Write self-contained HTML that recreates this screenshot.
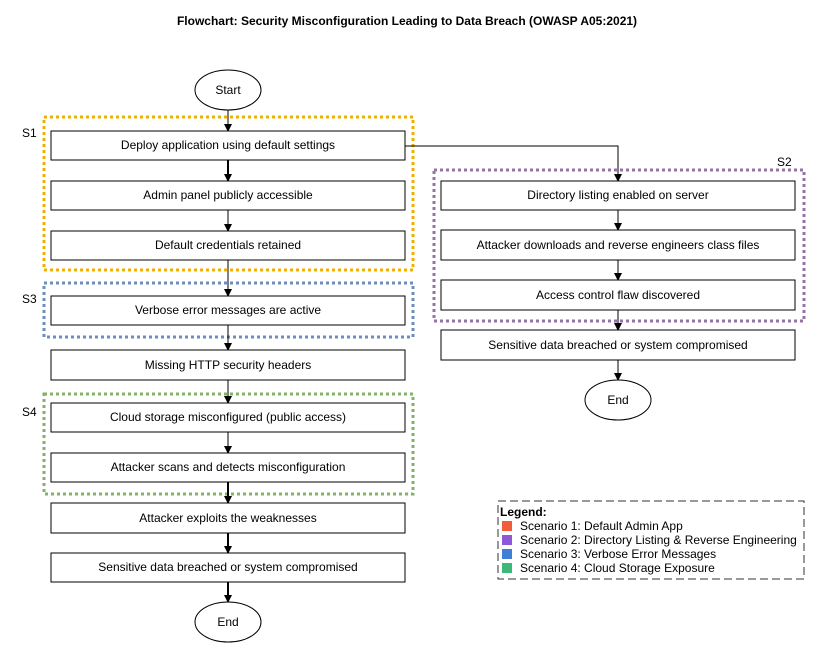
<!DOCTYPE html>
<html><head><meta charset="utf-8"><style>body{margin:0;background:#fff}svg{display:block}text{font-family:"Liberation Sans",Arial,sans-serif}</style></head><body>
<svg width="814" height="654" viewBox="0 0 814 654" xmlns="http://www.w3.org/2000/svg">
<defs><marker id="a" markerWidth="8" markerHeight="8" refX="7" refY="4" orient="auto" markerUnits="userSpaceOnUse"><path d="M0,0 L8,4 L0,8 Z" fill="#000"/></marker></defs>
<text x="407" y="25" font-size="12" font-weight="bold" text-anchor="middle">Flowchart: Security Misconfiguration Leading to Data Breach (OWASP A05:2021)</text>
<g fill="none" stroke-width="3" stroke-dasharray="3,3">
<rect x="44" y="117" width="369" height="153" stroke="#f0b000"/>
<rect x="44" y="283" width="369" height="54" stroke="#6c8ebf"/>
<rect x="44" y="394" width="369" height="100" stroke="#82b366"/>
<rect x="434" y="170" width="370" height="151" stroke="#9673a6"/>
</g>
<g font-size="12">
<text x="22" y="137">S1</text><text x="22" y="303">S3</text><text x="22" y="416">S4</text><text x="777" y="166">S2</text>
</g>
<g stroke="#000" stroke-width="1" fill="none" marker-end="url(#a)">
<line x1="228" y1="110" x2="228" y2="131"/>
<line x1="228" y1="160" x2="228" y2="181" stroke-width="2"/>
<line x1="228" y1="210" x2="228" y2="231"/>
<line x1="228" y1="260" x2="228" y2="296"/>
<line x1="228" y1="325" x2="228" y2="350"/>
<line x1="228" y1="380" x2="228" y2="403"/>
<line x1="228" y1="432" x2="228" y2="453"/>
<line x1="228" y1="482" x2="228" y2="503" stroke-width="2"/>
<line x1="228" y1="533" x2="228" y2="553" stroke-width="2"/>
<line x1="228" y1="582" x2="228" y2="602" stroke-width="2"/>
<polyline points="405,146 618,146 618,181"/>
<line x1="618" y1="210" x2="618" y2="230"/>
<line x1="618" y1="260" x2="618" y2="280"/>
<line x1="618" y1="310" x2="618" y2="330"/>
<line x1="618" y1="360" x2="618" y2="380"/>
</g>
<g fill="#fff" stroke="#000">
<ellipse cx="228" cy="90" rx="33" ry="20"/>
<ellipse cx="228" cy="622" rx="33" ry="20"/>
<ellipse cx="618" cy="400" rx="33" ry="20"/>
<rect x="51" y="131" width="354" height="29"/>
<rect x="51" y="181" width="354" height="29"/>
<rect x="51" y="231" width="354" height="29"/>
<rect x="51" y="296" width="354" height="29"/>
<rect x="51" y="350" width="354" height="30"/>
<rect x="51" y="403" width="354" height="29"/>
<rect x="51" y="453" width="354" height="29"/>
<rect x="51" y="503" width="354" height="30"/>
<rect x="51" y="553" width="354" height="29"/>
<rect x="441" y="181" width="354" height="29"/>
<rect x="441" y="230" width="354" height="30"/>
<rect x="441" y="280" width="354" height="30"/>
<rect x="441" y="330" width="354" height="30"/>
</g>
<g font-size="12" text-anchor="middle">
<text x="228" y="94">Start</text>
<text x="228" y="626">End</text>
<text x="618" y="404">End</text>
<text x="228" y="149">Deploy application using default settings</text>
<text x="228" y="199">Admin panel publicly accessible</text>
<text x="228" y="249">Default credentials retained</text>
<text x="228" y="314">Verbose error messages are active</text>
<text x="228" y="369">Missing HTTP security headers</text>
<text x="228" y="421">Cloud storage misconfigured (public access)</text>
<text x="228" y="471">Attacker scans and detects misconfiguration</text>
<text x="228" y="522">Attacker exploits the weaknesses</text>
<text x="228" y="571">Sensitive data breached or system compromised</text>
<text x="618" y="199">Directory listing enabled on server</text>
<text x="618" y="249">Attacker downloads and reverse engineers class files</text>
<text x="618" y="299">Access control flaw discovered</text>
<text x="618" y="349">Sensitive data breached or system compromised</text>
</g>
<rect x="498" y="501" width="306" height="78" fill="#fff" stroke="#333" stroke-dasharray="8,4"/>
<text x="500" y="516" font-size="12" font-weight="bold">Legend:</text>
<rect x="502" y="521" width="10" height="10" fill="#f25c3a"/>
<rect x="502" y="535" width="10" height="10" fill="#8e59d9"/>
<rect x="502" y="549" width="10" height="10" fill="#3f7fd6"/>
<rect x="502" y="563" width="10" height="10" fill="#3cb878"/>
<g font-size="12"><text x="520" y="530">Scenario 1: Default Admin App</text>
<text x="520" y="544">Scenario 2: Directory Listing &amp; Reverse Engineering</text>
<text x="520" y="558">Scenario 3: Verbose Error Messages</text>
<text x="520" y="572">Scenario 4: Cloud Storage Exposure</text></g>
</svg>
</body></html>
